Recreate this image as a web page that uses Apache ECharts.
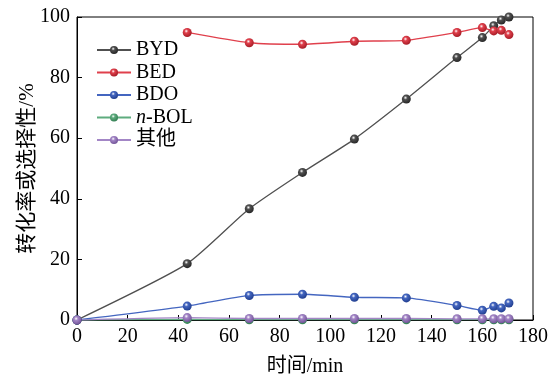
<!DOCTYPE html>
<html><head><meta charset="utf-8">
<script src="https://cdn.jsdelivr.net/npm/echarts@6/dist/echarts.min.js"></script>
<style>html,body{margin:0;padding:0;background:#fff}#c{width:549px;height:374px}</style>
</head><body><div id="c"></div>
<script>
var times = [0, 43.5, 68, 89, 109.5, 130, 150, 160, 164.5, 167.5, 170.5];
var bydValues = [0, 18.6, 36.7, 48.7, 59.7, 72.9, 86.6, 93.2, 97.1, 99.0, 100];
var bedTimes = [43.5, 68, 89, 109.5, 130, 150, 160, 164.5, 167.5, 170.5];
var bedValues = [94.9, 91.5, 91.0, 92.0, 92.3, 94.9, 96.5, 95.4, 95.6, 94.2];
var bdoValues = [0, 4.6, 8.1, 8.5, 7.5, 7.3, 4.8, 3.2, 4.5, 4.0, 5.6];
var nbolValues = [0, 0.2, 0.1, 0.1, 0.1, 0.1, 0.1, 0.1, 0.1, 0.1, 0.1];
var otherValues = [0, 0.8, 0.5, 0.5, 0.5, 0.5, 0.4, 0.4, 0.4, 0.4, 0.4];
var seriesNames = ['BYD', 'BED', 'BDO', 'n-BOL', '其他'];
var xTicks = [0, 20, 40, 60, 80, 100, 120, 140, 160, 180];
var yTicks = [0, 20, 40, 60, 80, 100];

var colors = ['#505050', '#e0404c', '#4466c0', '#5eac7e', '#a386c6'];
var dark = ['#222222', '#a01822', '#1d3a8a', '#2f7a4f', '#6e4f94'];
function ball(i){
  return new echarts.graphic.RadialGradient(0.4, 0.35, 0.7, [
    {offset:0, color:'#ffffff'},{offset:0.3, color:colors[i]},{offset:1, color:dark[i]}]);
}
function pairs(xs, ys){ return xs.map(function(x,k){return [x, ys[k]];}); }
var datas = [pairs(times,bydValues), pairs(bedTimes,bedValues), pairs(times,bdoValues), pairs(times,nbolValues), pairs(times,otherValues)];
var font = '"Liberation Serif","Noto Sans CJK SC",serif';
var chart = echarts.init(document.getElementById('c'));
chart.setOption({
  animation:false,
  grid:{left:77, right:16, top:17, bottom:54, show:true, borderColor:'#000', borderWidth:1, containLabel:false, outerBoundsMode:'none'},
  legend:{
    orient:'vertical', left:91, top:35, itemGap:2.5, itemWidth:34, itemHeight:10,
    data: seriesNames,
    textStyle:{fontFamily:font, fontSize:20, lineHeight:20, color:'#000', rich:{i:{fontStyle:'italic', fontFamily:font, fontSize:20, lineHeight:20}}},
    formatter:function(n){ return n==='n-BOL' ? '{i|n}-BOL' : n; }
  },
  xAxis:{type:'value', min:0, max:180, interval:20, name:'时间/min', nameLocation:'middle', nameGap:37, nameMoveOverlap:false,
    nameTextStyle:{fontFamily:font, fontSize:20, color:'#000'},
    axisLine:{lineStyle:{color:'#000'}}, axisTick:{inside:true, length:5, lineStyle:{color:'#000'}},
    axisLabel:{fontFamily:font, fontSize:20, color:'#000', margin:7}, splitLine:{show:false}},
  yAxis:{type:'value', min:0, max:100, interval:20, name:'转化率或选择性/%', nameLocation:'middle', nameGap:39, nameMoveOverlap:false,
    nameTextStyle:{fontFamily:font, fontSize:21, color:'#000'},
    axisLine:{show:true, lineStyle:{color:'#000'}}, axisTick:{inside:true, length:5, lineStyle:{color:'#000'}},
    axisLabel:{fontFamily:font, fontSize:20, color:'#000', margin:7}, splitLine:{show:false}},
  series: seriesNames.map(function(n,i){
    return {name:n, type:'line', data:datas[i], smooth:0.2, symbol:'circle', symbolSize:9, showAllSymbol:true,
      z: i===3?2:3,
      lineStyle:{color:colors[i], width:1.3}, itemStyle:{color:ball(i), borderWidth:0}};
  })
});
</script></body></html>
